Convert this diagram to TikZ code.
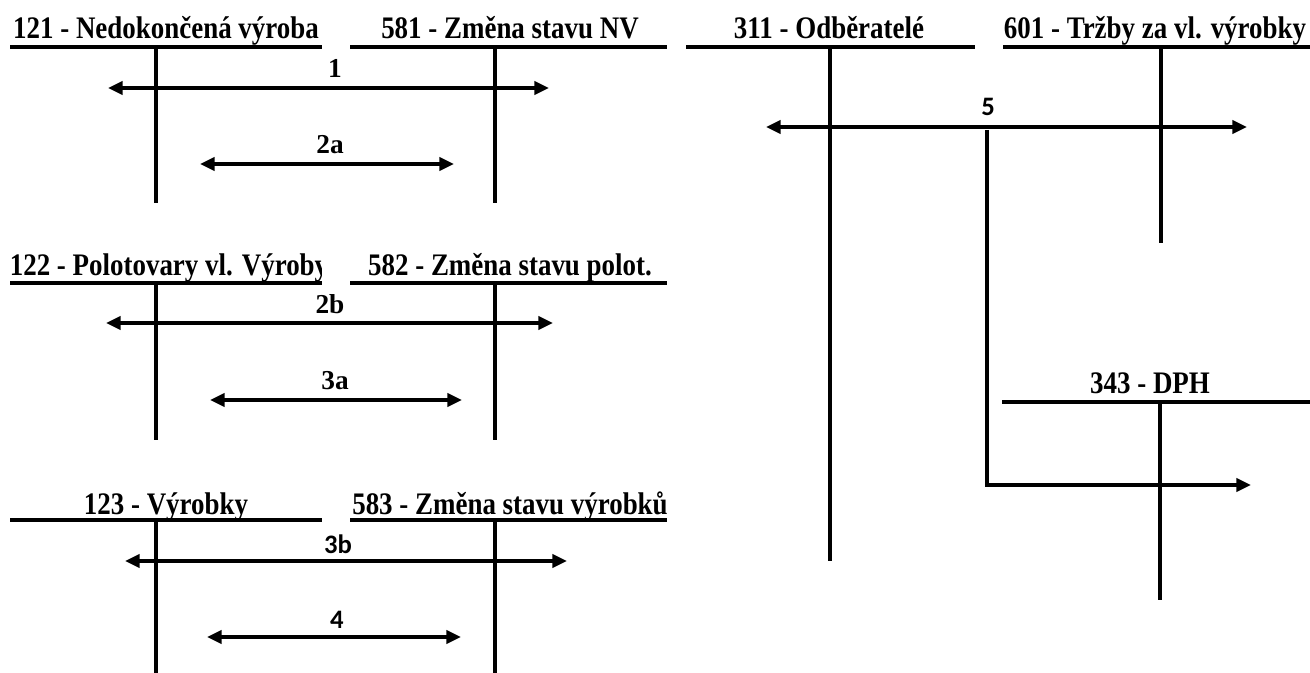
\documentclass[tikz,border=0pt]{standalone}
\usepackage{fontspec}
\setmainfont{Liberation Serif}
\newfontfamily\carl{Carlito}
\usetikzlibrary{arrows.meta}
\tikzset{
  hdr/.style={font=\bfseries\fontsize{23.5}{24}\selectfont, inner sep=0pt, anchor=base},
  lbl/.style={font=\bfseries\fontsize{20.5}{21}\selectfont, inner sep=0pt, anchor=base},
  lbls/.style={font=\carl\bfseries\fontsize{20}{21}\selectfont, inner sep=0pt, anchor=base},
  topline/.style={line width=3pt},
  stem/.style={line width=2.4pt},
  flow/.style={line width=2.4pt, {Triangle[length=11pt,width=10pt]}-{Triangle[length=11pt,width=10pt]}},
  flowr/.style={line width=2.4pt, -{Triangle[length=11pt,width=10pt]}}
}
\newcommand{\hx}[1]{\scalebox{0.86}[1]{#1}}
\begin{document}
\begin{tikzpicture}[x=0.75pt,y=-0.75pt]
\useasboundingbox (0,0) rectangle (1310,673);
% ---------- block 1
\node[hdr] (h121) at (166,39) {\hx{121 - Nedokončená výroba}};
\node[hdr] (h581) at (510,39) {\hx{581 - Změna stavu NV}};
\coordinate (a1) at (10,47); \coordinate (a2) at (322,47);
\coordinate (b1) at (350,47); \coordinate (b2) at (667,47);
\draw[topline] (a1) -- (a2);
\draw[topline] (b1) -- (b2);
\coordinate (s1t) at (156,47); \coordinate (s1b) at (156,203);
\coordinate (s2t) at (495,47); \coordinate (s2b) at (495,203);
\draw[stem] (s1t) -- (s1b);
\draw[stem] (s2t) -- (s2b);
\coordinate (f1a) at (108,88); \coordinate (f1b) at (549,88);
\draw[flow] (f1a) -- (f1b);
\node[lbl] (l1) at (335,78) {1};
\coordinate (f2a) at (200,164); \coordinate (f2b) at (454,164);
\draw[flow] (f2a) -- (f2b);
\node[lbl] (l2a) at (330,154) {2a};
% ---------- block 2
\begin{scope}
\clip (0,240) rectangle (321,282);
\node[hdr] (h122) at (169,276) {\hx{122 - Polotovary vl. Výroby}};
\end{scope}
\node[hdr] (h582) at (510,276) {\hx{582 - Změna stavu polot.}};
\coordinate (c1) at (10,283); \coordinate (c2) at (322,283);
\coordinate (d1) at (350,283); \coordinate (d2) at (667,283);
\draw[topline] (c1) -- (c2);
\draw[topline] (d1) -- (d2);
\coordinate (s3t) at (156,283); \coordinate (s3b) at (156,440);
\coordinate (s4t) at (495,283); \coordinate (s4b) at (495,440);
\draw[stem] (s3t) -- (s3b);
\draw[stem] (s4t) -- (s4b);
\coordinate (f3a) at (106,323); \coordinate (f3b) at (553,323);
\draw[flow] (f3a) -- (f3b);
\node[lbl] (l2b) at (330,314) {2b};
\coordinate (f4a) at (210,400); \coordinate (f4b) at (462,400);
\draw[flow] (f4a) -- (f4b);
\node[lbl] (l3a) at (335,390) {3a};
% ---------- block 3
\node[hdr] (h123) at (166,514) {\hx{123 - Výrobky}};
\node[hdr] (h583) at (510,514) {\hx{583 - Změna stavu výrobků}};
\coordinate (e1) at (10,520); \coordinate (e2) at (322,520);
\coordinate (g1) at (350,520); \coordinate (g2) at (667,520);
\draw[topline] (e1) -- (e2);
\draw[topline] (g1) -- (g2);
\coordinate (s5t) at (156,520); \coordinate (s5b) at (156,673);
\coordinate (s6t) at (495,520); \coordinate (s6b) at (495,673);
\draw[stem] (s5t) -- (s5b);
\draw[stem] (s6t) -- (s6b);
\coordinate (f5a) at (125,561); \coordinate (f5b) at (567,561);
\draw[flow] (f5a) -- (f5b);
\node[lbls] (l3b) at (338,553) {3b};
\coordinate (f6a) at (207,637); \coordinate (f6b) at (461,637);
\draw[flow] (f6a) -- (f6b);
\node[lbls] (l4) at (337,628) {4};
% ---------- right block
\node[hdr] (h311) at (829,39) {\hx{311 - Odběratelé}};
\node[hdr] (h601) at (1155,39) {\hx{601 - Tržby za vl. výrobky}};
\coordinate (o1) at (686,47); \coordinate (o2) at (975,47);
\coordinate (t1) at (1003,47); \coordinate (t2) at (1310,47);
\draw[topline] (o1) -- (o2);
\draw[topline] (t1) -- (t2);
\coordinate (s7t) at (830,47); \coordinate (s7b) at (830,561);
\coordinate (s8t) at (1161,47); \coordinate (s8b) at (1161,243);
\draw[stem] (s7t) -- (s7b);
\draw[stem] (s8t) -- (s8b);
\coordinate (f7a) at (766,127); \coordinate (f7b) at (1247,127);
\draw[flow] (f7a) -- (f7b);
\node[lbls] (l5) at (988,116) {5};
\node[hdr] (h343) at (1150,394) {\hx{343 - DPH}};
\coordinate (p1) at (1002,402); \coordinate (p2) at (1310,402);
\draw[topline] (p1) -- (p2);
\coordinate (s9t) at (1160,402); \coordinate (s9b) at (1160,600);
\draw[stem] (s9t) -- (s9b);
\coordinate (br1) at (987,130); \coordinate (br2) at (987,485); \coordinate (br3) at (1251,485);
\draw[flowr] (br1) -- (br2) -- (br3);
\end{tikzpicture}
\end{document}
